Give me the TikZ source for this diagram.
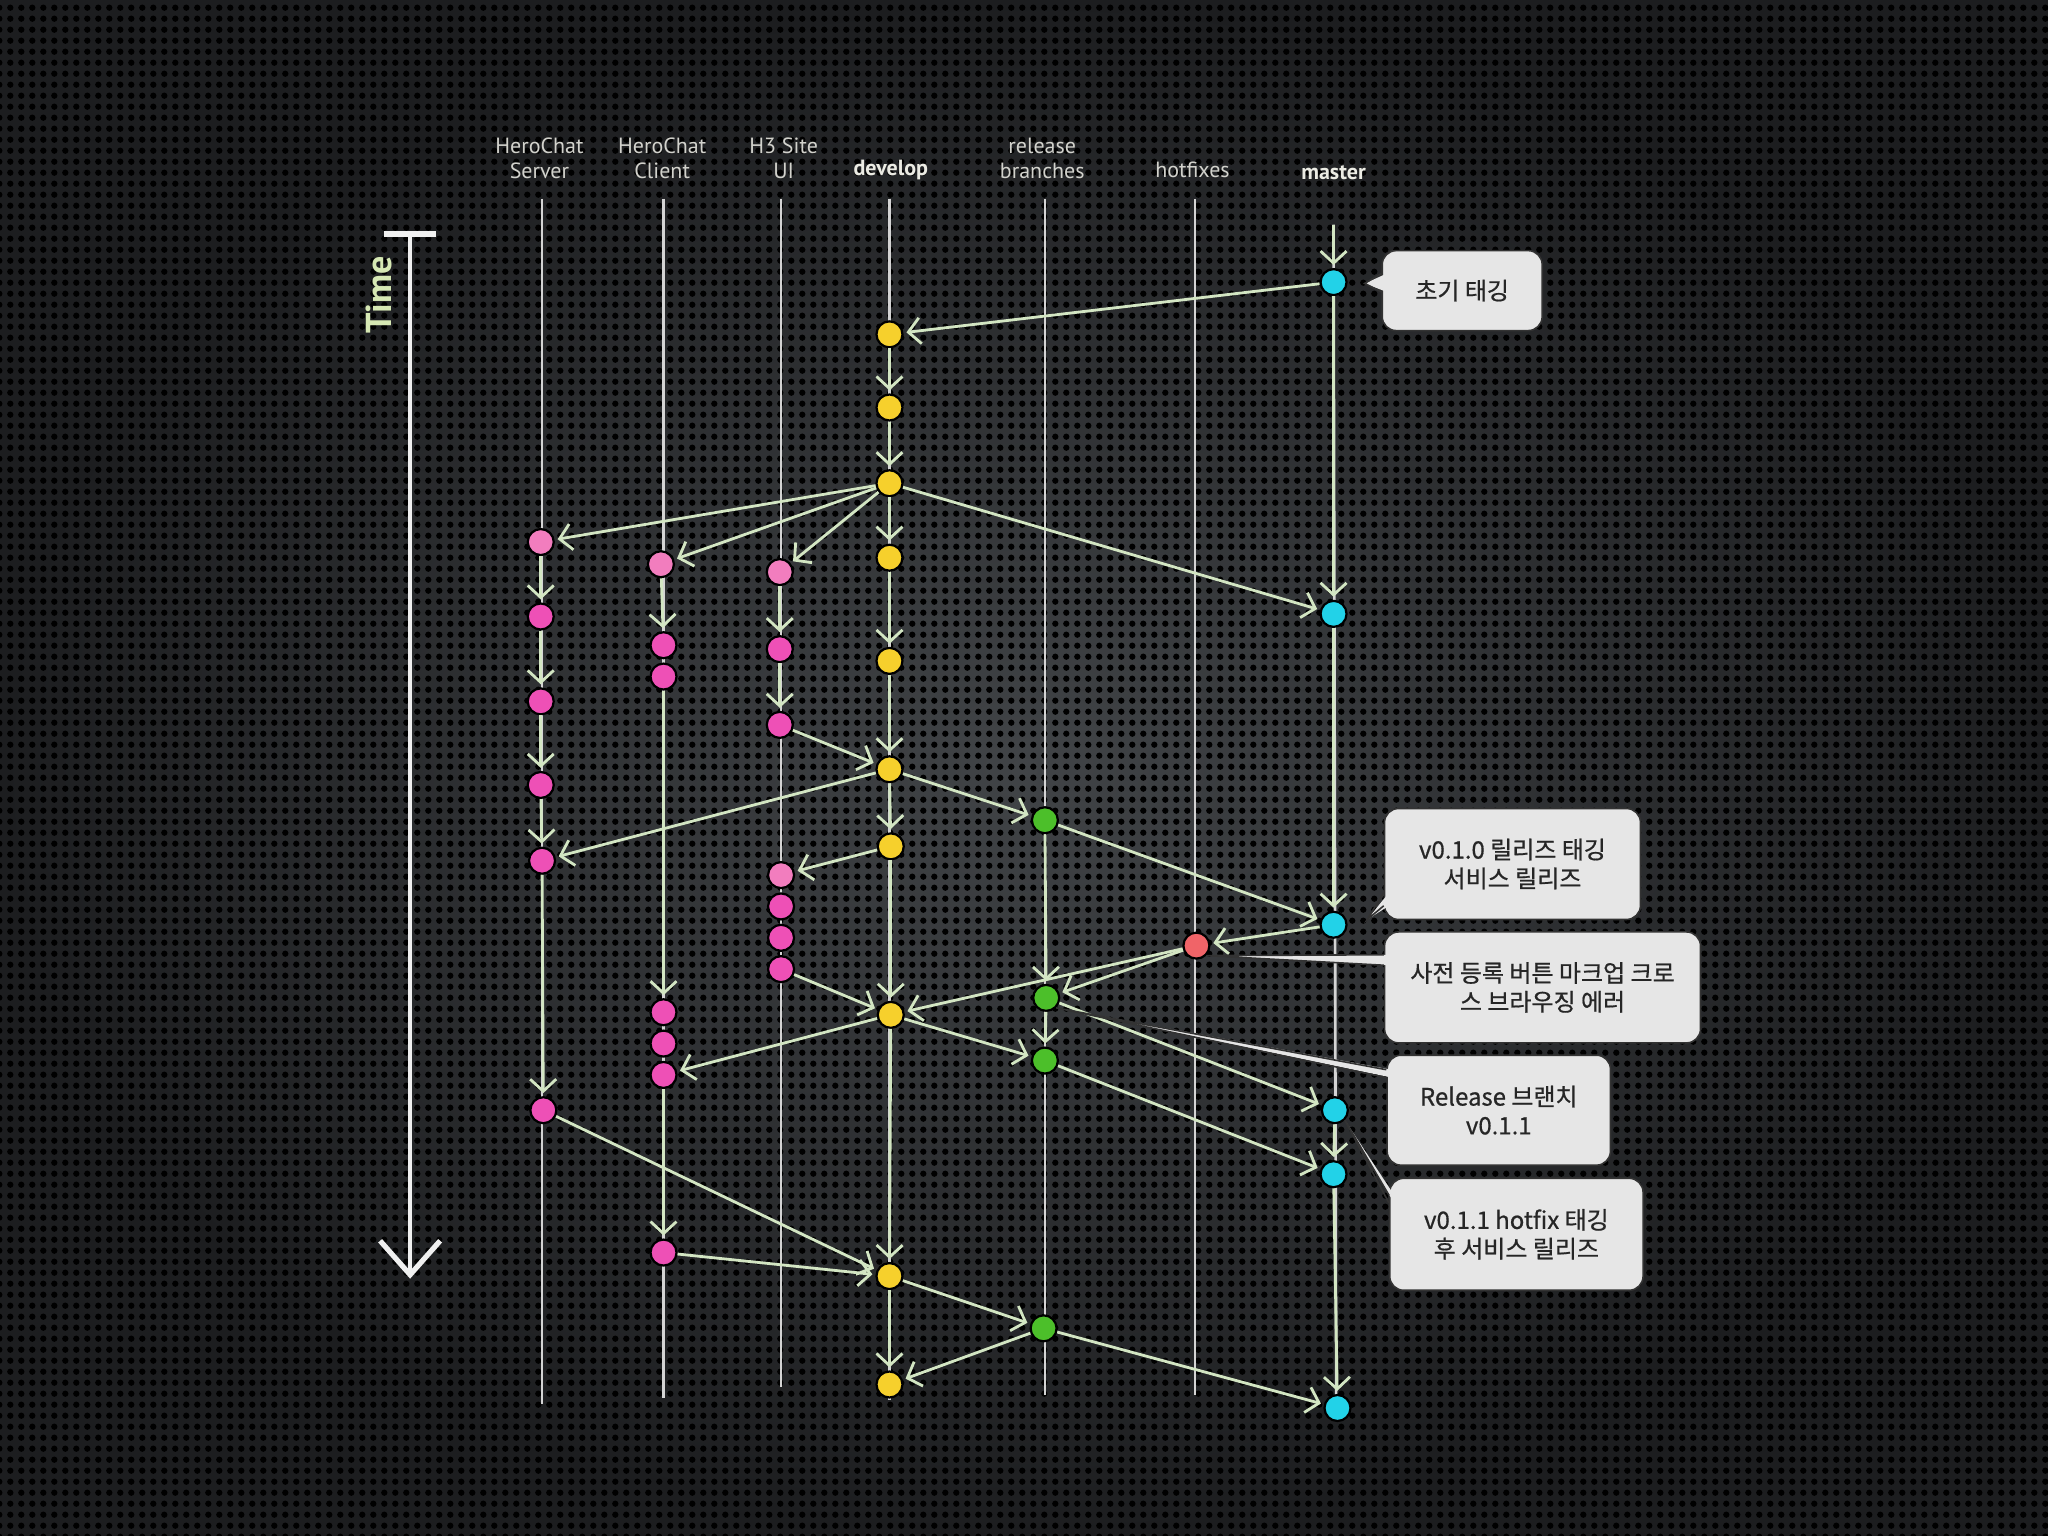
\documentclass[tikz,border=0pt]{standalone}
\usepackage{fontspec}
\setmainfont{PT Sans}
\newfontfamily\hangul[FakeBold=0.7]{Noto Sans CJK KR}
\usetikzlibrary{arrows.meta,patterns.meta,calc}

\definecolor{bginner}{HTML}{414447}
\definecolor{bgouter}{HTML}{1C1D1F}
\definecolor{devyellow}{HTML}{F6D02C}
\definecolor{featpink}{HTML}{EE50B6}
\definecolor{featlight}{HTML}{F27DBE}
\definecolor{relgreen}{HTML}{4CBF2A}
\definecolor{fixred}{HTML}{F06468}
\definecolor{mastercyan}{HTML}{22D2E8}
\definecolor{arrowgreen}{HTML}{D3E6C3}
\definecolor{laneline}{HTML}{D4D4D4}
\definecolor{labelgray}{HTML}{D2D2CC}
\definecolor{labelwhite}{HTML}{ECECE4}
\definecolor{timegreen}{HTML}{D6E8B4}
\definecolor{bubblegray}{HTML}{E6E6E6}
\definecolor{bubbletext}{HTML}{262626}

\begin{document}
\begin{tikzpicture}[x=0.6531pt,y=-0.6531pt]
        \tikzstyle{commit}=[circle,draw=black,line width=1.1pt,minimum size=13pt,inner sep=0pt]
        \tikzstyle{devcommit}=[commit,fill=devyellow]
        \tikzstyle{featcommit}=[commit,fill=featpink]
        \tikzstyle{featstart}=[commit,fill=featlight]
        \tikzstyle{relcommit}=[commit,fill=relgreen]
        \tikzstyle{fixcommit}=[commit,fill=fixred]
        \tikzstyle{mastercommit}=[commit,fill=mastercyan]
        \tikzstyle{lane}=[draw=laneline,line width=1.3pt]
        \tikzstyle{commitarrow}=[draw=arrowgreen,line width=1.4pt,shorten >=1.5pt,-{Straight Barb[length=6pt,width=13pt]}]
        \tikzstyle{timeaxis}=[draw=white!94!black,line width=2.2pt,{Bar[width=26pt,line width=3pt]}-{Straight Barb[length=17pt,width=30pt,line width=2.6pt]}]
        \tikzstyle{lanelabel}=[text=labelgray,align=center,font=\fontsize{11}{12.5}\selectfont]
        \tikzstyle{boldlabel}=[lanelabel,text=labelwhite,font=\fontsize{11}{12.5}\selectfont\bfseries]
        \tikzstyle{bubble}=[rectangle,rounded corners=7pt,fill=bubblegray,draw=black!80,line width=0.8pt,text=bubbletext,align=center,font=\hangul\fontsize{12}{14.4}\selectfont]
        \tikzstyle{tailfill}=[fill=bubblegray]
        \tikzstyle{tailedge}=[draw=black!80,line width=0.8pt]

          % background
          \useasboundingbox (0,0) rectangle (1568,1176);
          \shade[inner color=bginner,outer color=bgouter] (0,0) rectangle (1568,1176);
          \fill[pattern={Dots[distance=5.4pt,radius=1.6pt]},pattern color=black] (0,0) rectangle (1568,1176);

          % branch titles
          \node (serverlabel) at (413,121) [lanelabel] {HeroChat\\Server};
          \node (clientlabel) at (507,121) [lanelabel] {HeroChat\\Client};
          \node (sitelabel) at (600,121) [lanelabel] {H3 Site\\UI};
          \node (developlabel) at (682,130) [boldlabel] {develop};
          \node (releaselabel) at (798,121) [lanelabel] {release\\branches};
          \node (hotfixlabel) at (913,130) [lanelabel] {hotfixes};
          \node (masterlabel) at (1021,132) [boldlabel] {master};

          % lanes
          \foreach \lanename/\x/\bot in {server/415/1075,client/508/1070,site/598/1062,develop/681/1072,release/800/1068,hotfix/915/1068}{
            \coordinate (\lanename top) at (\x,152);
            \coordinate (\lanename bot) at (\x,\bot);
            \draw[lane] (\lanename top) -- (\lanename bot);
          }
          \coordinate (mastertop) at (1021,172);
          \coordinate (masterbot) at (1023,1070);
          \draw[lane] (mastertop) -- (masterbot);

          % time axis
          \coordinate (timetop) at (314,177);
          \coordinate (timebot) at (314,979);
          \draw[timeaxis] (timetop) -- (timebot);
          \node (time) at (290,226) [rotate=90,text=timegreen,font=\fontsize{18}{20}\selectfont\bfseries] {Time};

          % master
          \node (M1) at (1021,216) [mastercommit] {};
          \node (M2) at (1021,470) [mastercommit] {};
          \node (M3) at (1021,708) [mastercommit] {};
          \node (M4) at (1022,850) [mastercommit] {};
          \node (M5) at (1021,899) [mastercommit] {};
          \node (M6) at (1024,1078) [mastercommit] {};
          % develop
          \node (D1) at (681,256) [devcommit] {};
          \node (D2) at (681,312) [devcommit] {};
          \node (D3) at (681,370) [devcommit] {};
          \node (D4) at (681,427) [devcommit] {};
          \node (D5) at (681,506) [devcommit] {};
          \node (D6) at (681,589) [devcommit] {};
          \node (D7) at (682,648) [devcommit] {};
          \node (D8) at (682,777) [devcommit] {};
          \node (D9) at (681,977) [devcommit] {};
          \node (D10) at (681,1060) [devcommit] {};
          % release branches
          \node (R1) at (800,628) [relcommit] {};
          \node (R2) at (801,764) [relcommit] {};
          \node (R3) at (800,812) [relcommit] {};
          \node (R4) at (799,1017) [relcommit] {};
          % hotfixes
          \node (H1) at (916,724) [fixcommit] {};
          % HeroChat Server
          \node (S1) at (414,415) [featstart] {};
          \node (S2) at (414,472) [featcommit] {};
          \node (S3) at (414,537) [featcommit] {};
          \node (S4) at (414,601) [featcommit] {};
          \node (S5) at (415,659) [featcommit] {};
          \node (S6) at (416,850) [featcommit] {};
          % HeroChat Client
          \node (C1) at (506,432) [featstart] {};
          \node (C2) at (508,494) [featcommit] {};
          \node (C3) at (508,518) [featcommit] {};
          \node (C4) at (508,775) [featcommit] {};
          \node (C5) at (508,799) [featcommit] {};
          \node (C6) at (508,823) [featcommit] {};
          \node (C7) at (508,959) [featcommit] {};
          % H3 Site UI
          \node (U1) at (597,438) [featstart] {};
          \node (U2) at (597,497) [featcommit] {};
          \node (U3) at (597,555) [featcommit] {};
          \node (U4) at (598,670) [featstart] {};
          \node (U5) at (598,694) [featcommit] {};
          \node (U6) at (598,718) [featcommit] {};
          \node (U7) at (598,742) [featcommit] {};

          % commits along each branch
          \draw [commitarrow] (mastertop) -- (M1);
          \draw [commitarrow] (M1) -- (M2);
          \draw [commitarrow] (M2) -- (M3);
          \draw [commitarrow] (M4) -- (M5);
          \draw [commitarrow] (M5) -- (M6);
          \draw [commitarrow] (D1) -- (D2);
          \draw [commitarrow] (D2) -- (D3);
          \draw [commitarrow] (D3) -- (D4);
          \draw [commitarrow] (D4) -- (D5);
          \draw [commitarrow] (D5) -- (D6);
          \draw [commitarrow] (D6) -- (D7);
          \draw [commitarrow] (D7) -- (D8);
          \draw [commitarrow] (D8) -- (D9);
          \draw [commitarrow] (D9) -- (D10);
          \draw [commitarrow] (R1) -- (R2);
          \draw [commitarrow] (R2) -- (R3);
          \draw [commitarrow] (S1) -- (S2);
          \draw [commitarrow] (S2) -- (S3);
          \draw [commitarrow] (S3) -- (S4);
          \draw [commitarrow] (S4) -- (S5);
          \draw [commitarrow] (S5) -- (S6);
          \draw [commitarrow] (C1) -- (C2);
          \draw [commitarrow] (C3) -- (C4);
          \draw [commitarrow] (C6) -- (C7);
          \draw [commitarrow] (U1) -- (U2);
          \draw [commitarrow] (U2) -- (U3);

          % merges between branches
          \draw [commitarrow] (M1) -- (D1);
          \draw [commitarrow] (D3) -- (S1);
          \draw [commitarrow] (D3) -- (C1);
          \draw [commitarrow] (D3) -- (U1);
          \draw [commitarrow] (D3) -- (M2);
          \draw [commitarrow] (U3) -- (D6);
          \draw [commitarrow] (D6) -- (R1);
          \draw [commitarrow] (D6) -- (S5);
          \draw [commitarrow] (D7) -- (U4);
          \draw [commitarrow] (U7) -- (D8);
          \draw [commitarrow] (R1) -- (M3);
          \draw [commitarrow] (M3) -- (H1);
          \draw [commitarrow] (H1) -- (D8);
          \draw [commitarrow] (H1) -- (R2);
          \draw [commitarrow] (D8) -- (R3);
          \draw [commitarrow] (D8) -- (C6);
          \draw [commitarrow] (R2) -- (M4);
          \draw [commitarrow] (R3) -- (M5);
          \draw [commitarrow] (S6) -- (D9);
          \draw [commitarrow] (C7) -- (D9);
          \draw [commitarrow] (D9) -- (R4);
          \draw [commitarrow] (R4) -- (D10);
          \draw [commitarrow] (R4) -- (M6);

          % callouts
          \node (tagInit) at (1119.5,222.5) [bubble,minimum width=80pt,minimum height=40pt] {초기 태깅};
          \node (tagRel) at (1158,661.5) [bubble,minimum width=128pt,minimum height=55.5pt] {v0.1.0 릴리즈 태깅\\서비스 릴리즈};
          \node (fixNote) at (1181,756) [bubble,minimum width=158pt,minimum height=55.5pt] {사전 등록 버튼 마크업 크로\\스 브라우징 에러};
          \node (relNote) at (1147.5,850) [bubble,minimum width=111.7pt,minimum height=55pt] {Release 브랜치\\v0.1.1};
          \node (fixRel) at (1161,945) [bubble,minimum width=126.7pt,minimum height=56pt] {v0.1.1 hotfix 태깅\\후 서비스 릴리즈};

          \fill[tailfill] ($(M1.east)+(13,1)$) -- ($(tagInit.west)+(4,-13)$) -- ($(tagInit.west)+(4,1)$) -- cycle;
          \draw[tailedge] ($(tagInit.west)+(0,-13)$) -- ($(M1.east)+(13,1)$) -- ($(tagInit.west)+(0,1)$);
          \fill[tailfill] ($(M3.east)+(15,-4)$) -- ($(tagRel.west)+(4,22)$) -- ($(tagRel.west)+(4,32)$) -- cycle;
          \draw[tailedge] ($(tagRel.west)+(0,22)$) -- ($(M3.east)+(15,-4)$) -- ($(tagRel.west)+(0,32)$);
          \fill[tailfill] (H1.south east) -- ($(fixNote.west)+(4,-25)$) -- ($(fixNote.west)+(4,-17)$) -- cycle;
          \draw[tailedge] ($(fixNote.west)+(0,-25)$) -- (H1.south east) -- ($(fixNote.west)+(0,-17)$);
          \fill[tailfill] (R2.south east) -- ($(relNote.west)+(4,-31)$) -- ($(relNote.west)+(4,-25)$) -- cycle;
          \draw[tailedge] ($(relNote.west)+(0,-31)$) -- (R2.south east) -- ($(relNote.west)+(0,-25)$);
          \fill[tailfill] (M4.south east) -- ($(fixRel.west)+(4,-30)$) -- ($(fixRel.west)+(4,-24)$) -- cycle;
          \draw[tailedge] ($(fixRel.west)+(0,-30)$) -- (M4.south east) -- ($(fixRel.west)+(0,-24)$);
      \end{tikzpicture}
\end{document}
